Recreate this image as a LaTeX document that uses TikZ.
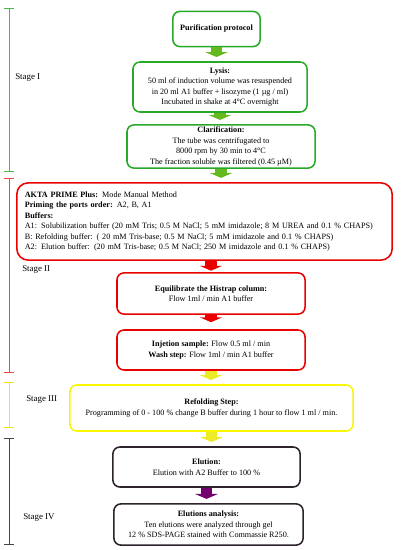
\documentclass[tikz,border=0pt]{standalone}
\usepackage{fontspec}
\setmainfont{Liberation Serif}
\usetikzlibrary{arrows.meta}
\definecolor{stagegreen}{RGB}{40,170,40}
\definecolor{arrowgreen}{RGB}{100,185,30}
\definecolor{stagered}{RGB}{235,0,0}
\definecolor{stageyellow}{RGB}{250,245,0}
\definecolor{arrowyellow}{RGB}{235,235,40}
\definecolor{stagedark}{RGB}{45,35,45}
\definecolor{arrowpurple}{RGB}{115,0,110}
\definecolor{bargreen}{RGB}{80,180,80}
\definecolor{barred}{RGB}{240,70,70}
\definecolor{baryellow}{RGB}{240,230,0}
\definecolor{bargray}{RGB}{70,70,70}
\begin{document}
\begin{tikzpicture}[x=0.025cm, y=-0.025cm,
    box/.style={rounded corners=5pt, line width=1.1pt, align=center, inner sep=1pt, font=\fontsize{5.8}{7.5}\selectfont},
    flow/.style={line width=8.5pt, -{Triangle[width=16pt,length=3.5pt]}, shorten >=3pt}]
\useasboundingbox (0,0) rectangle (400,550);
% stages
\foreach \c/\ya/\yb/\yl/\xl/\n in {bargreen/8/172/78/15/I, barred/178/373/270/22/II, baryellow/382/428/400/26/III, bargray/438/545/518/23/IV}
{
    \draw[\c, line width=0.6pt, {Bar[width=7pt]}-{Bar[width=7pt]}](9,\ya)--(9,\yb);
    \node[right, inner sep=0pt, font=\fontsize{6.3}{7}\selectfont] (stage\n) at (\xl,\yl) {Stage \n};
}
% boxes
\node[box, draw=stagegreen, minimum width=2.18cm, minimum height=0.88cm] (purif) at (216.5,29) {\textbf{Purification protocol}};
\node[box, draw=stagegreen, minimum width=4.35cm, minimum height=1.25cm] (lysis) at (220,87) {\textbf{Lysis:}\\50 ml of induction volume was resuspended\\in 20 ml A1 buffer + lisozyme (1 µg / ml)\\Incubated in shake at 4°C overnight};
\node[box, draw=stagegreen, minimum width=4.7cm, minimum height=1.08cm] (clarif) at (221,146.5) {\textbf{Clarification:}\\The tube was centrifugated to\\8000 rpm by 30 min to 4°C\\The fraction soluble was filtered (0.45 µM)};
\node[box, draw=stagered, rounded corners=8pt, align=left, inner xsep=0.2cm, text width=8.98cm, minimum height=1.93cm] (akta) at (204.5,221.5) {\textbf{AKTA PRIME Plus:} Mode Manual Method\\\textbf{Priming the ports order:} A2, B, A1\\\textbf{Buffers:}\\A1: Solubilization buffer (20 mM Tris; 0.5 M NaCl; 5 mM imidazole; 8 M UREA and 0.1 \% CHAPS)\\B: Refolding buffer: ( 20 mM Tris-base; 0.5 M NaCl; 5 mM imidazole and 0.1 \% CHAPS)\\A2: Elution buffer: (20 mM Tris-base; 0.5 M NaCl; 250 M imidazole and 0.1 \% CHAPS)};
\node[box, draw=stagered, minimum width=4.7cm, minimum height=1.03cm] (equil) at (211,293.5) {\textbf{Equilibrate the Histrap column:}\\Flow 1ml / min A1 buffer};
\node[box, draw=stagered, minimum width=4.7cm, minimum height=1cm] (inject) at (211,350) {\textbf{Injetion sample:} Flow 0.5 ml / min\\\textbf{Wash step:} Flow 1ml / min A1 buffer};
\node[box, draw=stageyellow, minimum width=7.08cm, minimum height=1.15cm] (refold) at (211.5,408) {\textbf{Refolding Step:}\\Programming of 0 - 100 \% change B buffer during 1 hour to flow 1 ml / min.};
\node[box, draw=stagedark, minimum width=4.68cm, minimum height=1cm] (elution) at (206.5,467) {\textbf{Elution:}\\Elution with A2 Buffer to 100 \%};
\node[box, draw=stagedark, minimum width=4.73cm, minimum height=1.03cm] (analysis) at (208.5,524.5) {\textbf{Elutions analysis:}\\Ten elutions were analyzed through gel\\12 \% SDS-PAGE stained with Commassie R250.};
% arrows
\draw[flow, arrowgreen](purif.south)--(purif.south |- lysis.north);
\draw[flow, arrowgreen](lysis.south)--(lysis.south |- clarif.north);
\draw[flow, arrowgreen](clarif.south)--(clarif.south |- akta.north);
\draw[flow, stagered, shorten >=1pt](equil.north |- akta.south)--(equil.north);
\draw[flow, stagered, shorten >=5pt](equil.south)--(inject.north);
\draw[flow, arrowyellow](inject.south)--(inject.south |- refold.north);
\draw[flow, arrowyellow](refold.south)--(refold.south |- elution.north);
\draw[flow, arrowpurple](elution.south)--(elution.south |- analysis.north);
\end{tikzpicture}
\end{document}
